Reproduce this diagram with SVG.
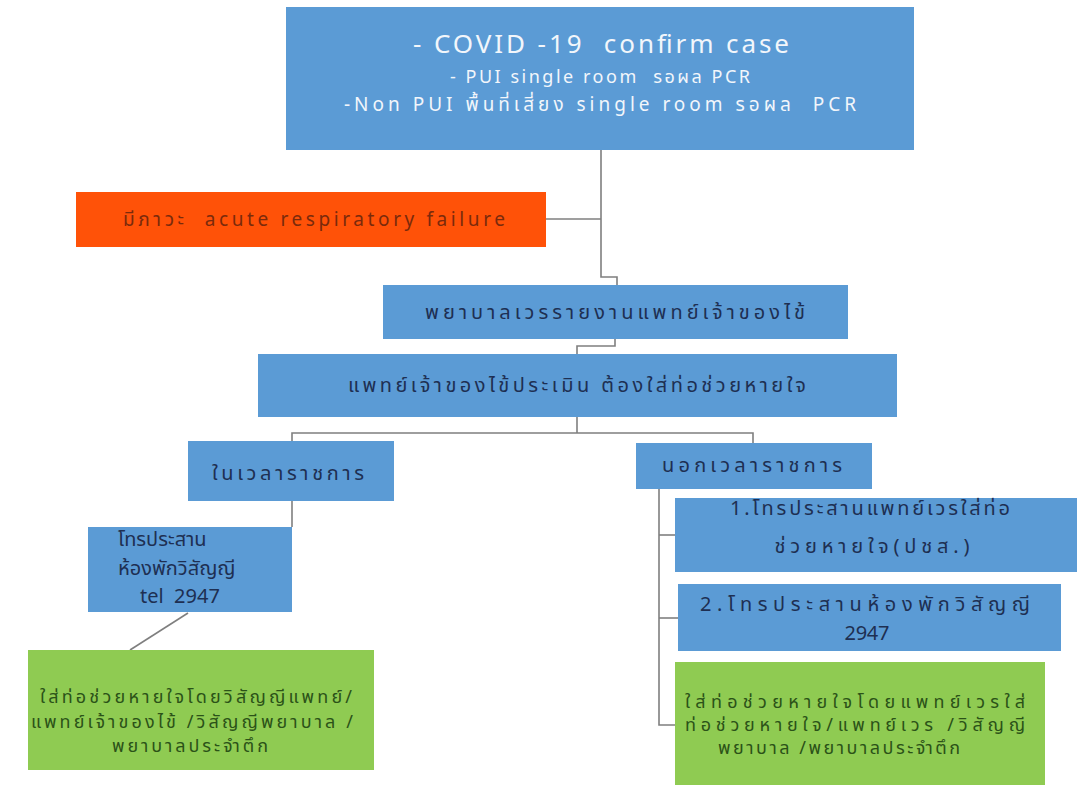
<svg xmlns="http://www.w3.org/2000/svg" width="1077" height="785" viewBox="0 0 1077 785">
  <style>
    .blue { fill: #5B9BD5; }
    .orange { fill: #FF5208; }
    .green { fill: #8FCB52; }
    .t { font-family: "Noto Sans", "Noto Sans Thai", "DejaVu Sans", sans-serif; text-anchor: middle; white-space: pre; }
    .s { text-anchor: start; }
    .dark { fill: #1E2F52; font-size: 20px; }
    .white { fill: #F2F6FB; }
    .red { fill: #7A2A0C; font-size: 19px; }
    .gtext { fill: #2B5218; font-size: 18px; }
    .conn { stroke: #7F7F7F; stroke-width: 1.6; fill: none; }
  </style>

  <rect width="1077" height="785" fill="#FFFFFF"/>

  <!-- connectors -->
  <g id="connectors">
    <path class="conn" d="M601 150 V277 H617 V285"/>
    <path class="conn" d="M546 219 H601"/>
    <path class="conn" d="M615 339 V346 H577 V354"/>
    <path class="conn" d="M577 417 V433"/>
    <path class="conn" d="M292 441 V433 H753 V443"/>
    <path class="conn" d="M292 501 V527"/>
    <path class="conn" d="M188 613 L130 650"/>
    <path class="conn" d="M659 489 V725 H675"/>
    <path class="conn" d="M659 535 H675"/>
    <path class="conn" d="M659 618 H678"/>
  </g>

  <!-- confirmed case -->
  <g id="n-confirm">
    <rect class="blue" x="286" y="7" width="628" height="143"/>
    <text class="t white" x="601" y="53" font-size="26" textLength="376">- COVID -19  confirm case</text>
    <text class="t white" x="600" y="83" font-size="18" textLength="300">- PUI single room  รอผล PCR</text>
    <text class="t white" x="600" y="111" font-size="19" textLength="512">-Non PUI พื้นที่เสี่ยง single room รอผล  PCR</text>
  </g>

  <!-- respiratory failure -->
  <g id="n-failure">
    <rect class="orange" x="76" y="192" width="470" height="55"/>
    <text class="t red" x="314" y="226" textLength="382">มีภาวะ  acute respiratory failure</text>
  </g>

  <!-- nurse reports -->
  <g id="n-report">
    <rect class="blue" x="383" y="285" width="465" height="54"/>
    <text class="t dark" x="615" y="319" textLength="380">พยาบาลเวรรายงานแพทย์เจ้าของไข้</text>
  </g>

  <!-- physician assessment -->
  <g id="n-assess">
    <rect class="blue" x="258" y="354" width="639" height="63"/>
    <text class="t dark" x="577" y="392" textLength="458">แพทย์เจ้าของไข้ประเมิน ต้องใส่ท่อช่วยหายใจ</text>
  </g>

  <!-- office hours -->
  <g id="n-office">
    <rect class="blue" x="188" y="441" width="206" height="60"/>
    <text class="t dark" x="288" y="480" textLength="152">ในเวลาราชการ</text>
  </g>

  <!-- after hours -->
  <g id="n-after">
    <rect class="blue" x="636" y="443" width="236" height="46"/>
    <text class="t dark" x="752" y="472" textLength="180">นอกเวลาราชการ</text>
  </g>

  <!-- call anaesthesia room -->
  <g id="n-call-anes">
    <rect class="blue" x="88" y="527" width="204" height="85"/>
    <text class="t s dark" x="118" y="546" font-size="16">โทรประสาน</text>
    <text class="t s dark" x="118" y="575" font-size="16">ห้องพักวิสัญญี</text>
    <text class="t s dark" x="140" y="603" font-size="16">tel  2947</text>
  </g>

  <!-- intubation, office hours -->
  <g id="n-intubate-office">
    <rect class="green" x="28" y="650" width="346" height="120"/>
    <text class="gtext t" x="196" y="703" textLength="312">ใส่ท่อช่วยหายใจโดยวิสัญญีแพทย์/</text>
    <text class="gtext t" x="192" y="728" textLength="322">แพทย์เจ้าของไข้ /วิสัญญีพยาบาล /</text>
    <text class="gtext t" x="190" y="752" textLength="156">พยาบาลประจำตึก</text>
  </g>

  <!-- call on-duty physician -->
  <g id="n-call-doctor">
    <rect class="blue" x="675" y="498" width="402" height="74"/>
    <text class="t dark" x="870" y="515" textLength="280">1.โทรประสานแพทย์เวรใส่ท่อ</text>
    <text class="t dark" x="872" y="553" textLength="195">ช่วยหายใจ(ปชส.)</text>
  </g>

  <!-- call anaesthesia room, after hours -->
  <g id="n-call-anes2">
    <rect class="blue" x="678" y="584" width="383" height="67"/>
    <text class="t dark" x="865" y="611" textLength="330">2.โทรประสานห้องพักวิสัญญี</text>
    <text class="t dark" x="867" y="640" textLength="45">2947</text>
  </g>

  <!-- intubation, after hours -->
  <g id="n-intubate-after">
    <rect class="green" x="675" y="662" width="370" height="123"/>
    <text class="gtext t" x="855" y="708" textLength="340">ใส่ท่อช่วยหายใจโดยแพทย์เวรใส่</text>
    <text class="gtext t" x="855" y="731" textLength="340">ท่อช่วยหายใจ/แพทย์เวร /วิสัญญี</text>
    <text class="gtext t" x="839" y="754" textLength="242">พยาบาล /พยาบาลประจำตึก</text>
  </g>
</svg>
